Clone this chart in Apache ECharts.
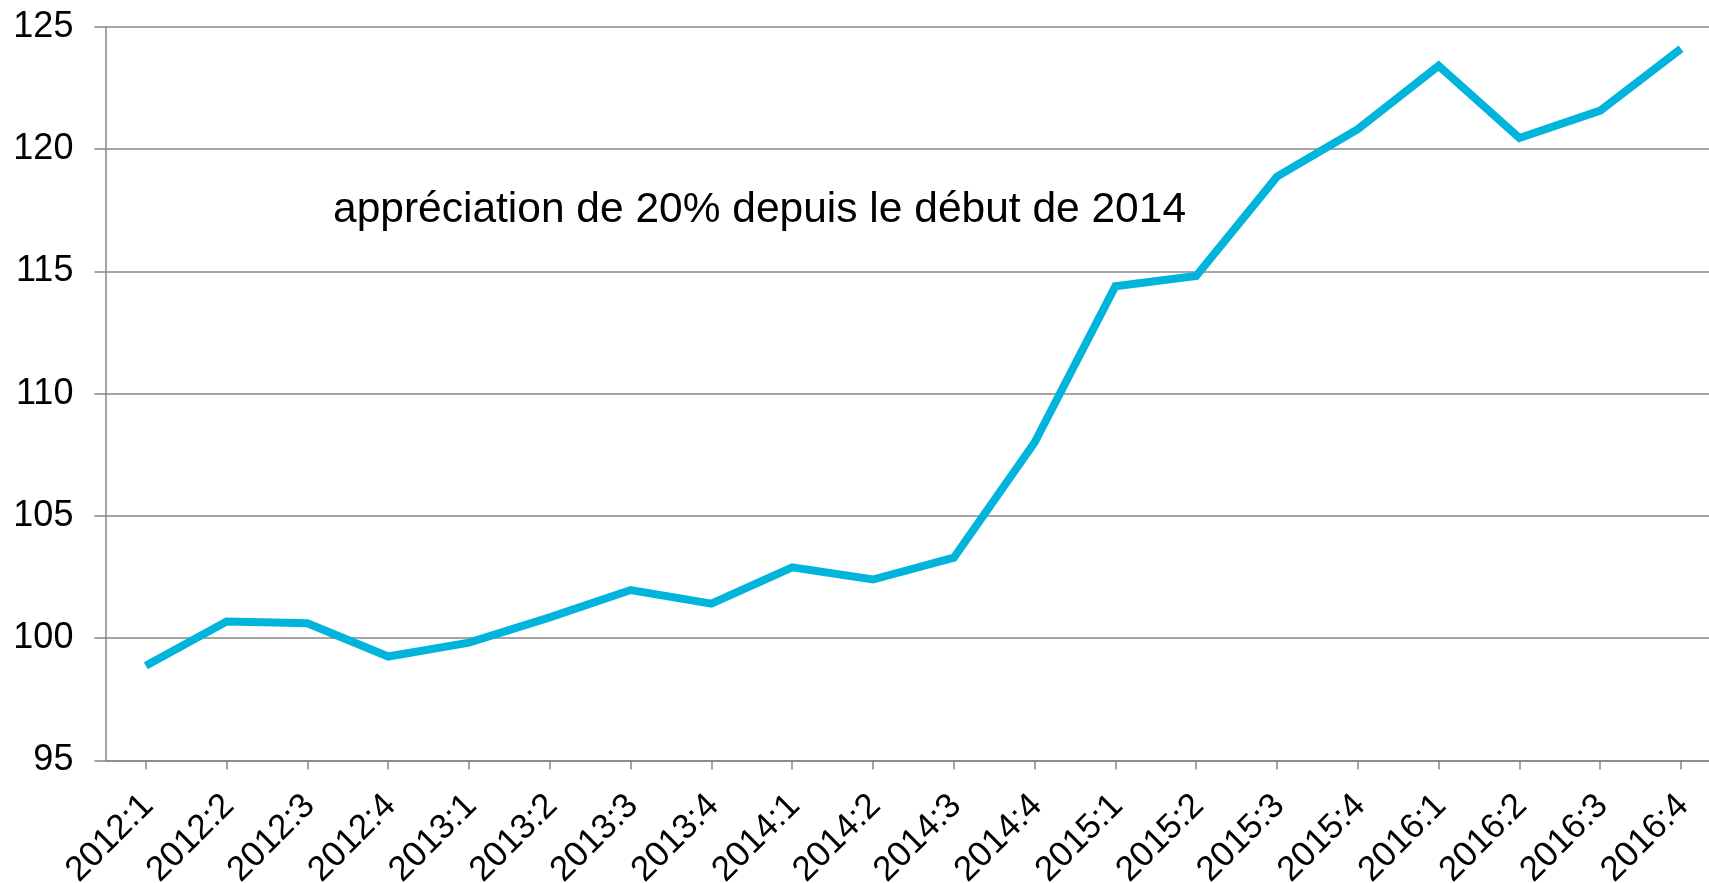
<!DOCTYPE html>
<html>
<head>
<meta charset="utf-8">
<script src="https://cdn.jsdelivr.net/npm/echarts@6/dist/echarts.min.js"></script>
<style>
html,body{margin:0;padding:0;background:#fff;}
#chart{width:1709px;height:883px;}
</style>
</head>
<body>
<div id="chart"></div>
<script>
const categories = ['2012:1','2012:2','2012:3','2012:4','2013:1','2013:2','2013:3','2013:4','2014:1','2014:2','2014:3','2014:4','2015:1','2015:2','2015:3','2015:4','2016:1','2016:2','2016:3','2016:4'];
const values = [98.87, 100.68, 100.61, 99.25, 99.82, 100.85, 101.97, 101.41, 102.9, 102.4, 103.29, 108.0, 114.39, 114.81, 118.87, 120.81, 123.4, 120.45, 121.57, 124.1];
const yMin = 95, yMax = 125, yStep = 5;
const annotation = 'appréciation de 20% depuis le début de 2014';

const chart = echarts.init(document.getElementById('chart'));
const axisGray = '#878787';
const font = '"Liberation Sans", Arial, sans-serif';
chart.setOption({
  animation: false,
  backgroundColor: '#fff',
  grid: {left: 105.4, right: -12.4, top: 26.7, bottom: 122.5, containLabel: false, outerBoundsMode: 'none'},
  xAxis: {
    type: 'category',
    data: categories,
    boundaryGap: true,
    axisLine: {show: true, lineStyle: {color: axisGray, width: 1.5}},
    axisTick: {show: true, alignWithLabel: true, length: 9, lineStyle: {color: axisGray, width: 1.5}},
    axisLabel: {interval: 0, rotate: 45, color: '#000', fontSize: 35, fontFamily: font, margin: 42, padding: [0, -3, 0, 0]},
    splitLine: {show: false}
  },
  yAxis: {
    type: 'value',
    min: yMin, max: yMax, interval: yStep,
    axisLine: {show: true, lineStyle: {color: axisGray, width: 1.5}},
    axisTick: {show: true, length: 11, lineStyle: {color: axisGray, width: 1.5}},
    axisLabel: {color: '#000', fontSize: 36, fontFamily: font, margin: 32},
    splitLine: {show: true, lineStyle: {color: axisGray, width: 1.5}}
  },
  series: [{
    type: 'line',
    data: values,
    showSymbol: false,
    symbol: 'none',
    lineStyle: {color: '#00B4DC', width: 8, cap: 'butt', join: 'miter'},
    itemStyle: {color: '#00B4DC'}
  }],
  graphic: [{
    type: 'text',
    x: 333, y: 210,
    style: {text: annotation, fill: '#000', font: '42.5px "Liberation Sans", Arial, sans-serif', align: 'left', verticalAlign: 'middle'}
  }]
});
</script>
</body>
</html>
